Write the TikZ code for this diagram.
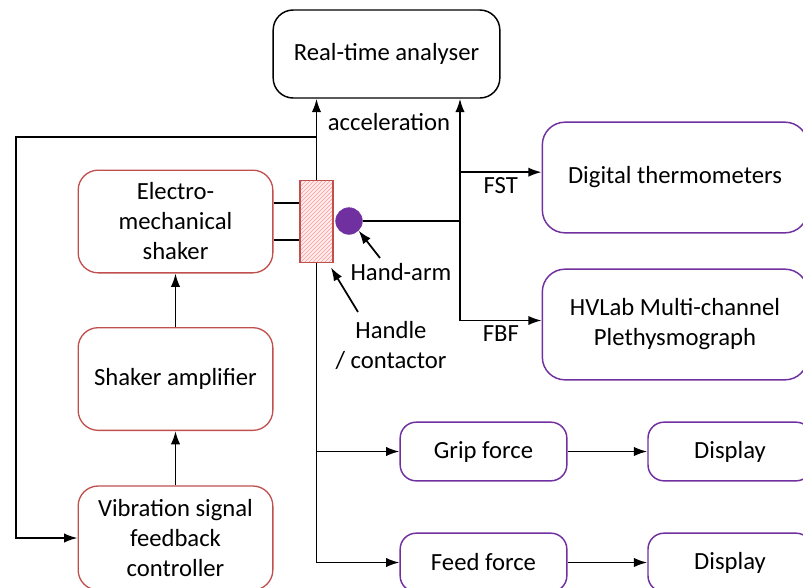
\documentclass[tikz,border=0pt]{standalone}
\usepackage{fontspec}
\setmainfont{Carlito}
\usetikzlibrary{arrows.meta, patterns}
\definecolor{boxred}{HTML}{C0504D}
\definecolor{boxpurple}{HTML}{7030A0}
\tikzstyle{blackbox} = [rectangle, rounded corners=15pt, minimum width=170pt, minimum height=66pt, text centered, draw=black, line width=1.1pt]
\tikzstyle{redbox} = [rectangle, rounded corners=15pt, minimum width=146pt, minimum height=77pt, text centered, align=center, draw=boxred, line width=1pt]
\tikzstyle{purplebox} = [rectangle, rounded corners=17pt, minimum width=199pt, minimum height=83pt, text centered, align=center, draw=boxpurple, line width=1.1pt]
\tikzstyle{smallbox} = [rectangle, rounded corners=12pt, minimum width=125pt, minimum height=44pt, text centered, draw=boxpurple, line width=1.1pt]
\tikzstyle{handlebox} = [rectangle, minimum width=24.75pt, minimum height=62pt, draw=boxred, line width=0.9pt, preaction={fill=red!7}, pattern=north east lines, pattern color=red!40]
\tikzstyle{label} = [align=center, inner sep=1pt]
\tikzstyle{arrow} = [line width=1.3pt, -{Latex[length=10pt, width=7pt]}]
\tikzstyle{line} = [line width=1.3pt]

\begin{document}
\begin{tikzpicture}[x=0.75pt, y=-0.75pt, every node/.style={font=\fontsize{18.5pt}{22.5pt}\selectfont}]
    \clip (0,0) rectangle (803,587);
    \node (rta) [blackbox] at (386.5,54) {Real-time analyser};
    \node (shaker) [redbox] at (175.5,221.5) {Electro-\\mechanical\\shaker};
    \node (amp) [redbox] at (175.5,379) {Shaker amplifier};
    \node (ctrl) [redbox, minimum height=78pt] at (175.5,538) {Vibration signal\\feedback\\controller};
    \node (handle) [handlebox] at (316.5,221.5) {};
    \node (hand) [circle, fill=boxpurple, draw=boxpurple, minimum size=20pt, inner sep=0pt] at (349,221) {};
    \node (therm) [purplebox] at (675,177.5) {Digital thermometers};
    \node (hvlab) [purplebox] at (675,324.5) {HVLab Multi-channel\\Plethysmograph};
    \node (grip) [smallbox] at (483.5,451.5) {Grip force};
    \node (disp1) [smallbox, minimum width=123pt] at (730,451.5) {Display};
    \node (feed) [smallbox] at (483.5,562.5) {Feed force};
    \node (disp2) [smallbox, minimum width=123pt] at (730,562.5) {Display};
    \node (acc) [label] at (389,122) {acceleration};
    \node (handarm) [label] at (401,272) {Hand-arm};
    \node (contact) [label] at (391,345) {Handle\\/ contactor};
    \coordinate (loopr) at (316,137);
    \coordinate (loopl) at (16,137);
    \coordinate (jn) at (460,221);
    \coordinate (hatail) at (380,258);
    \coordinate (hctail) at (358,312);

    % acceleration feed back to controller
    \draw [arrow] (handle.north) -- (handle.north |- rta.south);
    \draw [arrow] (loopr) -- (loopl) |- (ctrl.west);
    \draw [arrow] (ctrl) -- (amp);
    \draw [arrow] (amp) -- (shaker);
    \draw [line] ([yshift=14pt]shaker.east) -- ([yshift=14pt]shaker.east -| handle.west);
    \draw [line] ([yshift=-14pt]shaker.east) -- ([yshift=-14pt]shaker.east -| handle.west);
    % hand-arm measurements
    \draw [line] (hand) -- (jn);
    \draw [arrow] (jn) -- (jn |- rta.south);
    \draw [arrow] (jn) |- node[pos=0.75, below] {FST} ([yshift=4pt]therm.west);
    \draw [arrow] (jn) |- node[pos=0.75, below] {FBF} ([yshift=3pt]hvlab.west);
    % forces
    \draw [line] (handle.south) -- (handle.south |- feed.west);
    \draw [arrow] (handle.south |- grip.west) -- (grip.west);
    \draw [arrow] (handle.south |- feed.west) -- (feed.west);
    \draw [arrow] (grip) -- (disp1);
    \draw [arrow] (feed) -- (disp2);
    \draw [arrow] (hatail) -- (hand.south east);
    \draw [arrow] (hctail) -- ([shift={(-2pt,-3pt)}]handle.south east);
\end{tikzpicture}
\end{document}
